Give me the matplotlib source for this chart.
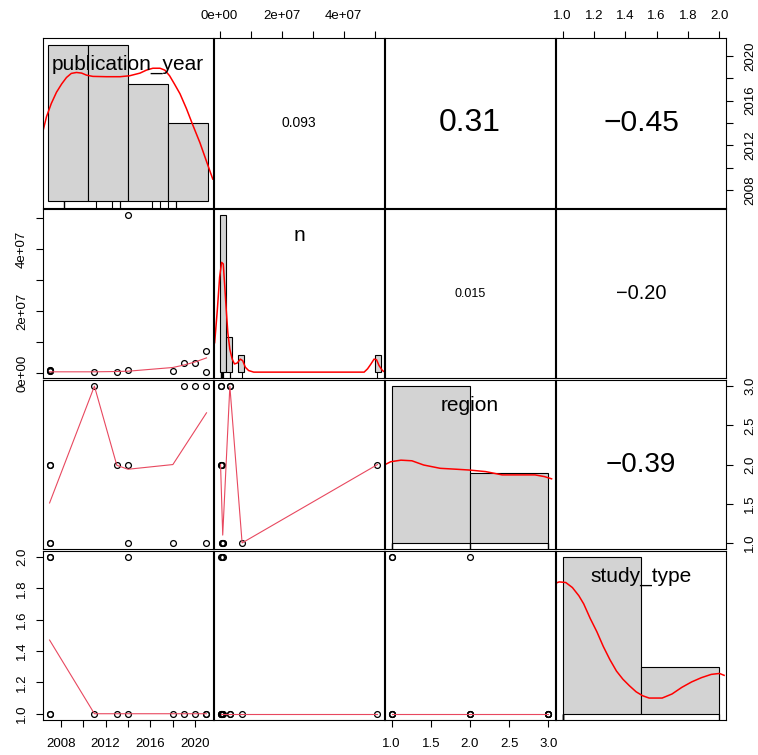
import matplotlib
matplotlib.use("Agg")
import matplotlib.pyplot as plt

plt.rcParams["font.family"] = ["Liberation Sans", "DejaVu Sans"]

# --- raw data (13 studies) ---
publication_year = [2007, 2007, 2007, 2007, 2011, 2013, 2014, 2014, 2018, 2019, 2020, 2021, 2021]
n = [9e5, 6e5, 1.0e6, 7e5, 3e5, 5e5, 5.09e7, 1.1e6, 8e5, 3.3e6, 3.2e6, 7.25e6, 3.5e5]
region = [1, 2, 1, 2, 3, 2, 2, 1, 1, 3, 3, 1, 3]
study_type = [2, 2, 1, 1, 1, 1, 1, 2, 1, 1, 1, 1, 1]

var_names = ["publication_year", "n", "region", "study_type"]

# --- histograms on the diagonal (bin edges, counts) ---
year_breaks = [2005, 2010, 2015, 2020, 2025]
year_counts = [4, 4, 3, 2]
n_bin_left = [0, 2e6, 6e6, 5e7]
n_bin_width = 2e6
n_counts = [9, 2, 1, 1]
region_breaks = [1, 2, 3]
region_counts = [9, 4]
type_breaks = [1, 1.5, 2]
type_counts = [10, 3]

# --- density curves (scaled to max bar = 1) ---
year_dens_x = [2004.4, 2004.8, 2005.4, 2006.05, 2006.7, 2007.3, 2007.9, 2008.55, 2009.2, 2009.8,
               2010.6, 2012.3, 2014.0, 2015.2, 2016.5, 2017.3, 2018.1, 2019.0, 2019.6, 2020.2,
               2020.8, 2021.5, 2022.3, 2023.1, 2024.0, 2024.8, 2025.6]
year_dens_y = [0.456, 0.540, 0.624, 0.696, 0.749, 0.790, 0.816, 0.822, 0.818, 0.805,
               0.797, 0.795, 0.795, 0.801, 0.818, 0.837, 0.849, 0.849, 0.837, 0.801,
               0.749, 0.686, 0.592, 0.487, 0.373, 0.257, 0.142]
n_dens_x = [-1.6e6, -0.74e6, 0, 0.64e6, 1.18e6, 1.6e6, 2.14e6, 2.65e6, 3.29e6, 4.06e6, 4.79e6,
            5.65e6, 6.7e6, 7.44e6, 8.3e6, 9.36e6, 1.1e7, 4.66e7, 4.77e7, 4.88e7, 4.98e7, 5.06e7,
            5.14e7, 5.25e7, 5.33e7]
n_dens_y = [0.188, 0.397, 0.606, 0.70, 0.69, 0.565, 0.397, 0.251, 0.146, 0.083, 0.052,
            0.058, 0.083, 0.073, 0.031, 0.010, 0.0, 0.0, 0.021, 0.052, 0.083, 0.079,
            0.042, 0.010, 0.0]
region_dens_x = [0.93, 0.99, 1.12, 1.26, 1.41, 1.62, 1.83, 1.99, 2.2, 2.41, 2.62, 2.83, 2.95, 3.04]
region_dens_y = [0.503, 0.518, 0.528, 0.524, 0.497, 0.476, 0.470, 0.465, 0.455, 0.434, 0.434,
                 0.434, 0.423, 0.409]
type_dens_x = [0.952, 0.979, 1.021, 1.063, 1.104, 1.135, 1.177, 1.219, 1.26, 1.302, 1.344, 1.385,
               1.427, 1.469, 1.51, 1.552, 1.635, 1.698, 1.76, 1.823, 1.885, 1.948, 2.0, 2.03]
type_dens_y = [0.831, 0.841, 0.837, 0.805, 0.753, 0.701, 0.607, 0.523, 0.429, 0.345, 0.272, 0.220,
               0.178, 0.140, 0.115, 0.100, 0.100, 0.126, 0.168, 0.203, 0.230, 0.251, 0.257, 0.245]

# --- smoothed (lowess) lines in the scatter panels, keyed by (row, col) ---
smooth_lines = {
    (1, 0): ([2007, 2011, 2013, 2014, 2018, 2019, 2020, 2021],
             [4e5, 4e5, 5e5, 6e5, 1.8e6, 2.6e6, 3.6e6, 4.9e6]),
    (2, 0): ([2007, 2011, 2013, 2014, 2018, 2019, 2020, 2021],
             [1.51, 3.0, 1.99, 1.94, 2.0, 2.22, 2.44, 2.66]),
    (3, 0): ([2007, 2011, 2013, 2014, 2018, 2019, 2020, 2021],
             [1.47, 1.0, 1.0, 1.0, 1.0, 1.0, 1.0, 1.0]),
    (2, 1): ([3e5, 1.0e6, 3.3e6, 7.25e6, 5.09e7], [2.0, 1.1, 3.0, 1.0, 2.0]),
    (3, 1): ([3e5, 5.09e7], [1.0, 1.0]),
    (3, 2): ([1, 3], [1.0, 1.0]),
}

# --- correlations shown in the upper panels ---
cor_text = {(0, 1): "0.093", (0, 2): "0.31", (0, 3): "\u22120.45",
            (1, 2): "0.015", (1, 3): "\u22120.20", (2, 3): "\u22120.39"}
cor_size = {(0, 1): 10, (0, 2): 23, (0, 3): 21.6,
            (1, 2): 9, (1, 3): 14.4, (2, 3): 20}

# --- axis ticks ---
year_ticks = [2008, 2010, 2012, 2014, 2016, 2018, 2020]
year_labels = ["2008", "", "2012", "", "2016", "", "2020"]
n_ticks = [0, 1e7, 2e7, 3e7, 4e7, 5e7]
n_labels = ["0e+00", "", "2e+07", "", "4e+07", ""]
region_ticks = [1.0, 1.5, 2.0, 2.5, 3.0]
region_labels = ["1.0", "1.5", "2.0", "2.5", "3.0"]
type_ticks = [1.0, 1.2, 1.4, 1.6, 1.8, 2.0]
type_labels = ["1.0", "1.2", "1.4", "1.6", "1.8", "2.0"]

data = [publication_year, n, region, study_type]
ticks = [(year_ticks, year_labels), (n_ticks, n_labels),
         (region_ticks, region_labels), (type_ticks, type_labels)]


def padded(v, frac=0.04):
    lo, hi = min(v), max(v)
    d = (hi - lo) * frac
    return lo - d, hi + d


lims = [padded(v) for v in data]

W, H = 758, 755
fig = plt.figure(figsize=(W / 100, H / 100), dpi=100)
left, right, top, bottom = 43.3, 725.7, 38.3, 720.0
gap = 1.5
pw = (right - left - 3 * gap) / 4
ph = (bottom - top - 3 * gap) / 4

HIST_COL = "#d3d3d3"
SMOOTH_COL = "#e8485f"
TICK_FS = 9.5

axes = {}
for i in range(4):
    for j in range(4):
        x0 = left + j * (pw + gap)
        y0 = top + i * (ph + gap)
        ax = fig.add_axes([x0 / W, 1 - (y0 + ph) / H, pw / W, ph / H])
        axes[(i, j)] = ax
        for s in ax.spines.values():
            s.set_linewidth(0.8)
        ax.set_xticks([])
        ax.set_yticks([])
        if i == j:
            continue
        ax.set_xlim(*lims[j])
        ax.set_ylim(*lims[i])
        if i > j:
            ax.plot(data[j], data[i], "o", ms=4.2, mfc="none", mec="black", mew=0.9)
            sx, sy = smooth_lines[(i, j)]
            ax.plot(sx, sy, color=SMOOTH_COL, lw=0.8)
        else:
            ax.text(0.5, 0.5, cor_text[(i, j)], transform=ax.transAxes,
                    ha="center", va="center", fontsize=cor_size[(i, j)])

# --- diagonal panels: histogram, density, rug and variable name ---
diag = [
    (year_breaks[:-1], [b - a for a, b in zip(year_breaks[:-1], year_breaks[1:])], year_counts,
     year_dens_x, year_dens_y, padded(year_breaks, 0.03)),
    (n_bin_left, [n_bin_width] * len(n_bin_left), n_counts, n_dens_x, n_dens_y, lims[1]),
    (region_breaks[:-1], [1, 1], region_counts, region_dens_x, region_dens_y, lims[2]),
    (type_breaks[:-1], [0.5, 0.5], type_counts, type_dens_x, type_dens_y, lims[3]),
]
for k, (lefts, widths, counts, dx, dy, xl) in enumerate(diag):
    ax = axes[(k, k)]
    ax.set_xlim(*xl)
    ax.set_ylim(-0.04, 1.04)
    heights = [c / max(counts) for c in counts]
    ax.bar(lefts, heights, width=widths, align="edge", color=HIST_COL,
           edgecolor="black", linewidth=0.8)
    ax.plot(dx, dy, color="red", lw=1.1)
    ax.vlines(data[k], -0.04, 0, color="black", lw=0.8)
    ax.text(0.5, 0.846, var_names[k], transform=ax.transAxes,
            ha="center", va="center", fontsize=15)

# --- outer axes (alternating like R's pairs) ---
tick_kw = dict(direction="out", length=5, width=0.8, labelsize=TICK_FS)

# columns: 0 and 2 on bottom (row 3), 1 and 3 on top (row 0)
for j in range(4):
    tv, tl = ticks[j]
    if j % 2 == 0:
        ax = axes[(3, j)]
        ax.set_xticks(tv, tl)
        ax.tick_params(axis="x", bottom=True, labelbottom=True, pad=8, **tick_kw)
    else:
        ax = axes[(0, j)]
        ax.set_xticks(tv, tl)
        ax.tick_params(axis="x", top=True, labeltop=True, bottom=False,
                       labelbottom=False, pad=7, **tick_kw)

# rows: 0 and 2 on right (col 3), 1 and 3 on left (col 0)
for i in range(4):
    tv, tl = ticks[i]
    if i % 2 == 0:
        ax = axes[(i, 3)]
        ax.set_yticks(tv, tl)
        ax.tick_params(axis="y", right=True, labelright=True, left=False,
                       labelleft=False, pad=8.5, **tick_kw)
    else:
        ax = axes[(i, 0)]
        ax.set_yticks(tv, tl)
        ax.tick_params(axis="y", left=True, labelleft=True, pad=6, **tick_kw)
    for lab in ax.get_yticklabels():
        lab.set_rotation(90)
        lab.set_va("center")

fig.savefig("out.png", dpi=100)
